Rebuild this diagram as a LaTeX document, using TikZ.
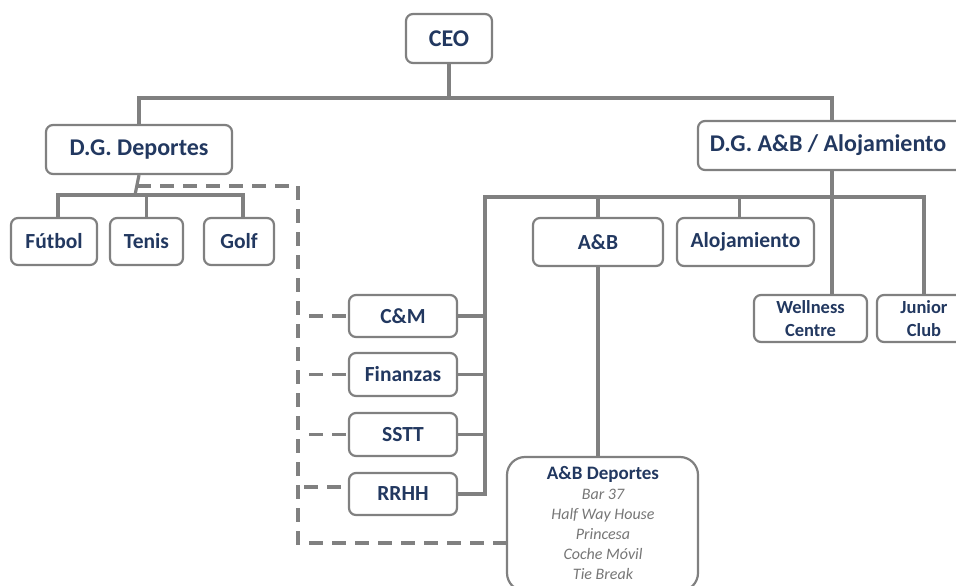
\documentclass[tikz,border=0pt]{standalone}
\usepackage{fontspec}
\setmainfont{Carlito}
\definecolor{navy}{RGB}{34,56,96}
\definecolor{boxgray}{RGB}{128,128,128}
\definecolor{linegray}{RGB}{128,128,128}
\definecolor{itgray}{RGB}{118,118,118}
\tikzset{
  box/.style={draw=boxgray, line width=2.2pt, rounded corners=7pt, fill=white, inner sep=0pt,
    text=navy, align=center},
  big/.style={font=\bfseries\fontsize{24}{28}\selectfont},
  mid/.style={font=\bfseries\fontsize{21.5}{24}\selectfont},
  small/.style={font=\bfseries\fontsize{18.5}{22.7}\selectfont},
  conn/.style={draw=linegray, line width=3.2pt},
  dconn/.style={draw=linegray, line width=3.2pt, dash pattern=on 14pt off 9pt},
}
\begin{document}
\begin{tikzpicture}[x=1pt,y=-1pt]
\useasboundingbox (0,0) rectangle (956,586);
\clip (0,0) rectangle (956,586);
% nodes
\node[box,big,minimum width=86pt,minimum height=49pt] (ceo) at (449,38.5) {CEO};
\node[box,big,minimum width=186pt,minimum height=49pt] (dgd) at (139,149.5) {D.G. Deportes};
\node[box,big,minimum width=268pt,minimum height=49pt] (dga) at (832,145.5) {\hspace*{-8pt}D.G. A\&B / Alojamiento};
\node[box,mid,minimum width=86pt,minimum height=47pt] (fut) at (54,241.5) {Fútbol};
\node[box,mid,minimum width=73pt,minimum height=47pt] (ten) at (146.5,241.5) {Tenis};
\node[box,mid,minimum width=70pt,minimum height=47pt] (golf) at (239,241.5) {Golf};
\node[box,mid,minimum width=108pt,minimum height=42pt] (cm) at (403,316) {C\&M};
\node[box,mid,minimum width=108pt,minimum height=43pt] (fin) at (403,374.5) {Finanzas};
\node[box,mid,minimum width=108pt,minimum height=43pt] (sstt) at (403,434.5) {SSTT};
\node[box,mid,minimum width=108pt,minimum height=42pt] (rrhh) at (403,494) {RRHH};
\node[box,mid,minimum width=130pt,minimum height=48pt] (ab) at (598,242) {A\&B};
\node[box,mid,minimum width=137pt,minimum height=48pt] (aloj) at (745.5,242) {Alojamiento};
\node[box,small,minimum width=113pt,minimum height=47pt] (well) at (810.5,318.5) {Wellness\\Centre};
\node[box,small,minimum width=94pt,minimum height=47pt] (jun) at (924,318.5) {Junior\\Club};
\node[box,rounded corners=18pt,minimum width=191pt,minimum height=134pt] (abd) at (602.5,524) {};
\node[anchor=north,inner sep=0pt,align=center,text=itgray,
      font=\itshape\fontsize{16}{20}\selectfont] (abdtext) at (603,466)
  {{\color{navy}\upshape\bfseries\fontsize{19}{20}\selectfont A\&B Deportes}\\
   Bar 37\\Half Way House\\Princesa\\Coche Móvil\\Tie Break};
% coordinates
\coordinate (bus1) at (449,98);
\coordinate (bus2) at (135,195);
\coordinate (busL) at (485,197);
\coordinate (dstart) at (137,186);
\coordinate (dcorner) at (298,186);
\coordinate (dbottom) at (298,543);
% solid connectors
\draw[conn] (ceo.south) -- (bus1);
\draw[conn] (dgd.north) |- (bus1) -| (dga.north);
\draw[conn] (dgd.south) -- (bus2);
\draw[conn] ([xshift=4pt]fut.north) |- (bus2) -| ([xshift=4pt]golf.north);
\draw[conn] (ten.north) -- (ten.north |- bus2);
\draw[conn] (rrhh.east) -| (busL) -| (jun.north);
\draw[conn] (cm.east) -- (cm.east -| busL);
\draw[conn] (fin.east) -- (fin.east -| busL);
\draw[conn] (sstt.east) -- (sstt.east -| busL);
\draw[conn] (dga.south) -- (dga.south |- well.north);
\draw[conn] (ab.north) -- (ab.north |- busL);
\draw[conn] ([xshift=-6pt]aloj.north) -- ([xshift=-6pt]aloj.north |- busL);
\draw[conn] (ab.south) -- (ab.south |- abd.north);
% dashed connectors
\draw[dconn] (dstart) -- (dcorner) -- (dbottom) -- (dbottom -| abd.west);
\draw[dconn, shorten <=11pt] (dcorner |- cm.west) -- (cm.west);
\draw[dconn, shorten <=11pt] (dcorner |- fin.west) -- (fin.west);
\draw[dconn, shorten <=11pt] (dcorner |- sstt.west) -- (sstt.west);
\draw[dconn, shorten <=6pt] ([yshift=7pt]dcorner |- rrhh.west) -- ([yshift=7pt]rrhh.west);
\end{tikzpicture}
\end{document}
